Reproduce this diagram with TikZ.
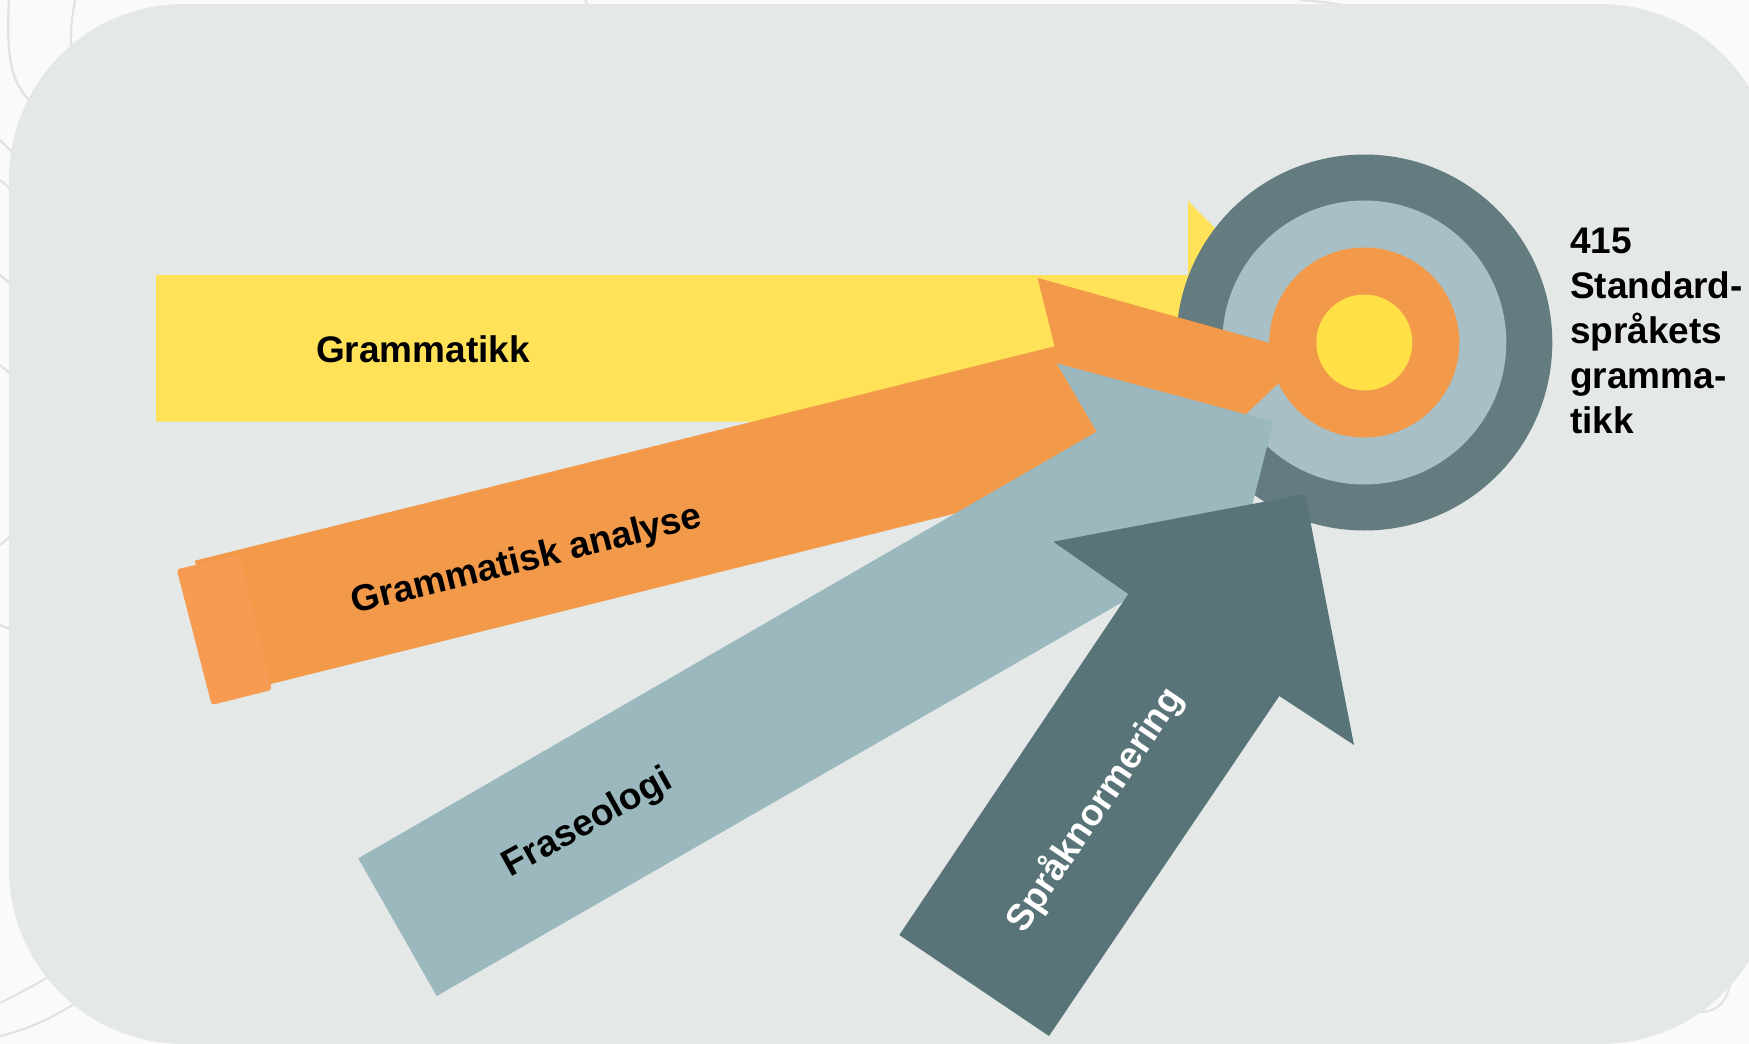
\documentclass[tikz,border=0pt]{standalone}
\usepackage{fontspec}
\setmainfont{Liberation Sans}
\definecolor{pagebg}{HTML}{FAFAFA}
\definecolor{panel}{HTML}{E4E9E8}
\definecolor{swirlc}{HTML}{E2E2E2}
\definecolor{yel}{HTML}{FFE257}
\definecolor{ora}{HTML}{F2994A}
\definecolor{oracap}{HTML}{F79B52}
\definecolor{lblue}{HTML}{9BB8BE}
\definecolor{ringc}{HTML}{A7BFC5}
\definecolor{darkc}{HTML}{597479}
\definecolor{outerc}{HTML}{647C80}
\definecolor{corec}{HTML}{FFE147}
\begin{document}
\begin{tikzpicture}[x=1pt,y=-1pt,
  lbl/.style={font=\fontsize{37}{44}\selectfont\bfseries, inner sep=0pt},
  disc/.style={circle, inner sep=0pt, draw=none},
  swirl/.style={draw=swirlc, line width=2.2pt}]
\useasboundingbox (0,0) rectangle (1749,1044);
\fill[pagebg] (0,0) rectangle (1749,1044);

% faint background swirls (mostly hidden by the panel)
\path[swirl] (9,0) .. controls (5,70) and (15,90) .. (40,110);
\path[swirl] (75,0) .. controls (68,40) and (70,60) .. (80,80);
\path[swirl] (0,140) -- (12,152);
\path[swirl] (0,180) -- (12,190);
\path[swirl] (0,275) -- (12,285);
\path[swirl] (0,365) -- (12,375);
\path[swirl] (0,545) -- (12,535);
\path[swirl] (0,625) -- (12,630);
\path[swirl] (0,1003) .. controls (20,993) and (35,985) .. (60,970);
\path[swirl] (0,1036) .. controls (25,1030) and (50,1020) .. (80,1000);
\path[swirl] (1731,955) .. controls (1734,995) and (1722,1012) .. (1700,1012);
\path[swirl] (585,0) -- (588,6);
\path[swirl] (1300,0) .. controls (1330,2) and (1350,6) .. (1365,10);

\fill[panel, rounded corners=175pt] (9,4) rectangle (1775,1044);

% yellow arrow (Grammatikk)
\fill[yel] (156,275) -- (1188,275) -- (1188,201) -- (1335,348.3) -- (1188,495.6) -- (1188,421.6) -- (156,421.6) -- cycle;

% target
\node[disc, fill=outerc, minimum size=376pt] (t1) at (1364.3,342.5) {};
\node[disc, fill=ringc, minimum size=284pt] (t2) at (t1.center) {};
\node[disc, fill=ora, minimum size=190pt] (t3) at (t1.center) {};
\node[disc, fill=corec, minimum size=96pt] (t4) at (t1.center) {};

% orange arrow (Grammatisk analyse)
\fill[ora] (194.9,560.7) -- (1054.6,346.3) -- (1037.6,277.9) -- (1309,354) -- (1105.0,548.7) -- (1088.0,480.3) -- (228.3,694.6) -- cycle;
\fill[oracap, rounded corners=3pt] (176.7,569.3) -- (240,555) -- (271.7,690) -- (211.7,705) -- cycle;

% light blue arrow (Fraseologi)
\fill[lblue] (358.3,858.3) -- (1096.7,431.7) -- (1056.7,363.3) -- (1273.3,421.7) -- (1218.3,639.3) -- (1177.9,570.2) -- (436.7,996) -- cycle;

% dark arrow (Spraknormering)
\fill[darkc] (899.3,935) -- (1128.3,594) -- (1053.3,541.7) -- (1305,494) -- (1354,745) -- (1279.3,696) -- (1049,1036) -- cycle;

% labels
\node[lbl, anchor=base] (g) at (423,362) {Grammatikk};
\node[lbl, rotate=14] (ga) at (527,561) {Grammatisk analyse};
\node[lbl, rotate=29] (fr) at (588,824) {Fraseologi};
\node[lbl, rotate=56, text=white] (sn) at (1095,810) {Språknormering};

\node[lbl, anchor=base west] (r1) at (1570,253) {415};
\node[lbl, anchor=base west] (r2) at (1570,298) {Standard-};
\node[lbl, anchor=base west] (r3) at (1570,343) {språkets};
\node[lbl, anchor=base west] (r4) at (1570,388) {gramma-};
\node[lbl, anchor=base west] (r5) at (1570,433) {tikk};
\end{tikzpicture}
\end{document}
